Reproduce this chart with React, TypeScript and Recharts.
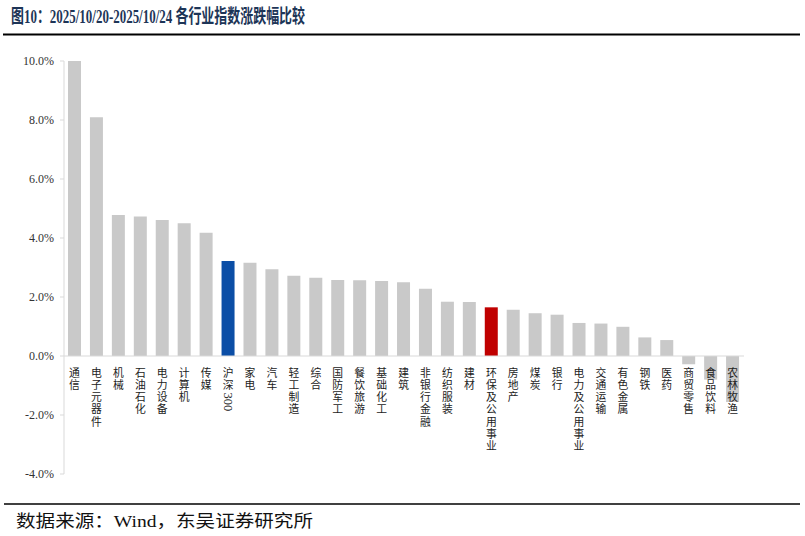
import { BarChart, Bar, Cell, LabelList, ReferenceLine, XAxis, YAxis } from "recharts";

const categories = [
  "通信", "电子元器件", "机械", "石油石化", "电力设备", "计算机", "传媒", "沪深300",
  "家电", "汽车", "轻工制造", "综合", "国防军工", "餐饮旅游", "基础化工", "建筑",
  "非银行金融", "纺织服装", "建材", "环保及公用事业", "房地产", "煤炭", "银行",
  "电力及公用事业", "交通运输", "有色金属", "钢铁", "医药", "商贸零售", "食品饮料", "农林牧渔"
];

const changes = [
  10.0, 8.09, 4.78, 4.73, 4.61, 4.5, 4.18, 3.22,
  3.16, 2.94, 2.72, 2.65, 2.58, 2.57, 2.54, 2.5,
  2.28, 1.84, 1.83, 1.65, 1.57, 1.45, 1.4,
  1.12, 1.1, 0.99, 0.63, 0.54, -0.28, -0.8, -1.56
];

const yTicks = [-4, -2, 0, 2, 4, 6, 8, 10];

const benchmark = "沪深300";
const highlighted = "环保及公用事业";

const data = categories.map((name, i) => ({ name, value: changes[i] }));

const serif = "'Liberation Serif', 'Noto Sans CJK SC', serif";

function barColor(name: string) {
  if (name === benchmark) return "#0b4ea6";
  if (name === highlighted) return "#c00000";
  return "#c9c9c9";
}

// stacked vertical category label, sitting just under the zero line
function StackedLabel(props: any) {
  const { x, y, width, height, value } = props;
  const name = String(value);
  const v = changes[categories.indexOf(name)] ?? 0;
  const top = Math.min(y, y + height);
  const bottom = Math.max(y, y + height);
  const zeroY = v >= 0 ? bottom : top;
  const cx = x + width / 2;
  const pitch = 12.3;
  const parts = name.match(/[0-9A-Za-z]+|./g) || [];
  const nodes: any[] = [];
  let pos = zeroY + 20.5;
  parts.forEach((p, i) => {
    if (/^[0-9A-Za-z]+$/.test(p)) {
      const start = pos - 8.5;
      nodes.push(
        <text
          key={i}
          x={cx}
          y={start}
          transform={`rotate(90 ${cx} ${start})`}
          dominantBaseline="central"
          fontSize={12.5}
          fontFamily={serif}
          fill="#222"
        >
          {p}
        </text>
      );
      pos += p.length * 6.5;
    } else {
      nodes.push(
        <text key={i} x={cx} y={pos} textAnchor="middle" fontSize={10.8} fontFamily={serif} fill="#222">
          {p}
        </text>
      );
      pos += pitch;
    }
  });
  return <g>{nodes}</g>;
}

export default function App() {
  return (
    <div style={{ position: "absolute", left: 0, top: 0, width: 805, height: 536, background: "#fff" }}>
      <svg width={805} height={536} style={{ position: "absolute", left: 0, top: 0 }}>
        <text
          x={11}
          y={23}
          fontSize={19}
          fontWeight="bold"
          fontFamily={serif}
          fill="#1d3557"
          textLength={294}
          lengthAdjust="spacingAndGlyphs"
        >
          图10：2025/10/20-2025/10/24 各行业指数涨跌幅比较
        </text>
        <line x1={3} x2={800} y1={34.5} y2={34.5} stroke="#000" strokeWidth={2.2} />
        <line x1={4} x2={800} y1={504} y2={504} stroke="#000" strokeWidth={1.6} />
        <text
          x={16}
          y={527}
          fontSize={17}
          fontFamily={serif}
          fill="#111"
          textLength={297}
          lengthAdjust="spacingAndGlyphs"
        >
          数据来源：Wind，东吴证券研究所
        </text>
      </svg>
      <div style={{ position: "absolute", left: 0, top: 0 }}>
        <BarChart width={805} height={536} data={data} margin={{ top: 61, right: 61, bottom: 62, left: 8 }}>
          <XAxis dataKey="name" hide />
          <YAxis
            width={56}
            domain={[-4, 10]}
            ticks={yTicks}
            interval={0}
            tickFormatter={(v: number) => `${v.toFixed(1)}%`}
            tick={{ fontSize: 12, fontFamily: serif, fill: "#333" }}
            axisLine={{ stroke: "#d9d9d9" }}
            tickLine={{ stroke: "#d9d9d9" }}
            tickSize={4}
            tickMargin={6}
          />
          <ReferenceLine y={0} stroke="#d9d9d9" strokeWidth={1.2} />
          <Bar dataKey="value" barSize={13} isAnimationActive={false}>
            {data.map((d) => (
              <Cell key={d.name} fill={barColor(d.name)} />
            ))}
            <LabelList dataKey="name" content={StackedLabel} />
          </Bar>
        </BarChart>
      </div>
    </div>
  );
}
